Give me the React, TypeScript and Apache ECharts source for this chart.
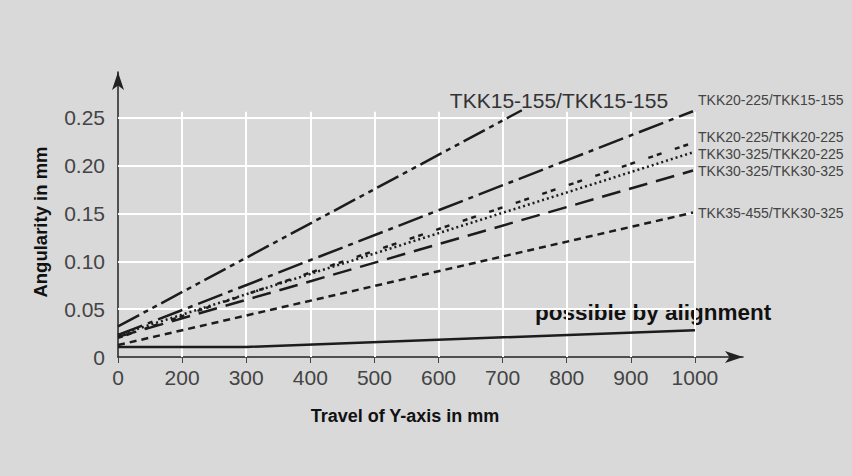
import React, { useEffect, useRef } from 'react';
import * as echarts from 'echarts';

// X axis: tick positions 0..9 carry these labels (the original chart skips "100")
const xTickLabels = ['0', '200', '300', '400', '500', '600', '700', '800', '900', '1000'];
const xTickPositions = [0, 1, 2, 3, 4, 5, 6, 7, 8, 9];
const yTickValues = [0, 0.05, 0.1, 0.15, 0.2, 0.25];

// Series: [x position in tick steps, angularity in mm]
const tkk15_155_15_155 = [[0, 0.032], [6.3, 0.258]];
const tkk20_225_15_155 = [[0, 0.023], [8.97, 0.257]];
const tkk20_225_20_225 = [[0, 0.020], [8.97, 0.224]];
const tkk30_325_20_225 = [[0, 0.023], [8.97, 0.214]];
const tkk30_325_30_325 = [[0, 0.021], [8.97, 0.195]];
const tkk35_455_30_325 = [[0, 0.0125], [8.97, 0.151]];
const alignment = [[0, 0.0105], [2, 0.0105], [9, 0.028]];

const rightLabels = [
  'TKK20-225/TKK15-155',
  'TKK20-225/TKK20-225',
  'TKK30-325/TKK20-225',
  'TKK30-325/TKK30-325',
  'TKK35-455/TKK30-325',
];

const LINE = '#1c1c1c';
const FONT = 'Liberation Sans, Arial, sans-serif';

export default function App() {
  const ref = useRef<HTMLDivElement>(null);
  useEffect(() => {
    document.body.style.margin = '0';
    const chart = echarts.init(ref.current!, null, { renderer: 'svg' });

    const gridLines: any[] = [];
    yTickValues.filter((v) => v > 0).forEach((v) => {
      gridLines.push([{ coord: [0, v] }, { coord: [9, v] }]);
    });
    xTickPositions.filter((p) => p > 0).forEach((p) => {
      gridLines.push([{ coord: [p, 0] }, { coord: [p, 0.2565] }]);
    });

    const mk = (data: number[][], type: any, name: string) => ({
      type: 'line',
      name,
      data,
      symbol: 'none',
      z: 3,
      lineStyle: { color: LINE, width: 2.5, type, cap: 'butt' },
    });

    const rightY = [100, 137, 154, 171, 212.5];

    chart.setOption({
      animation: false,
      backgroundColor: '#d9d9d9',
      grid: { left: 118, right: 109, top: 72, bottom: 119 },
      xAxis: {
        type: 'value',
        min: 0,
        max: 9.75,
        interval: 1,
        axisLine: {
          show: true,
          symbol: ['none', 'arrow'],
          symbolSize: [9, 18],
          lineStyle: { color: '#222', width: 1.5 },
        },
        axisTick: {
          show: true,
          length: 6,
          customValues: xTickPositions,
          lineStyle: { color: '#444', width: 1 },
        },
        axisLabel: {
          customValues: xTickPositions,
          margin: 10,
          color: '#444',
          fontSize: 21,
          fontFamily: FONT,
          formatter: (v: number) => {
            const i = Math.round(v);
            if (Math.abs(v - i) > 1e-6) return '';
            return xTickLabels[i] ?? '';
          },
        },
        splitLine: { show: false },
      },
      yAxis: {
        type: 'value',
        min: 0,
        max: 0.298,
        interval: 0.05,
        axisLine: {
          show: true,
          symbol: ['none', 'arrow'],
          symbolSize: [9, 18],
          lineStyle: { color: '#222', width: 1.5 },
        },
        axisTick: { show: false },
        axisLabel: {
          customValues: yTickValues,
          margin: 13,
          color: '#444',
          fontSize: 21,
          fontFamily: FONT,
          formatter: (v: number) => {
            if (v > 0.2501) return '';
            return v === 0 ? '0' : v.toFixed(2);
          },
        },
        splitLine: { show: false },
      },
      series: [
        {
          type: 'line',
          data: [[0, 0]],
          symbol: 'none',
          z: 1,
          lineStyle: { opacity: 0 },
          markLine: {
            silent: true,
            z: 1,
            symbol: 'none',
            label: { show: false },
            lineStyle: { color: '#ffffff', width: 2, type: 'solid' },
            data: gridLines,
          },
        },
        mk(tkk15_155_15_155, [24, 5, 5, 5, 5, 5], 'TKK15-155/TKK15-155'),
        mk(tkk20_225_15_155, [26, 6, 5, 6], rightLabels[0]),
        mk(tkk20_225_20_225, [5, 4, 5, 14], rightLabels[1]),
        mk(tkk30_325_20_225, [2, 3], rightLabels[2]),
        mk(tkk30_325_30_325, [19, 9], rightLabels[3]),
        mk(tkk35_455_30_325, [7, 5], rightLabels[4]),
        mk(alignment, 'solid', 'possible by alignment'),
      ],
      graphic: [
        {
          type: 'text',
          x: 559,
          y: 100,
          style: {
            text: 'TKK15-155/TKK15-155',
            fontSize: 21,
            fontFamily: FONT,
            fill: '#333',
            textAlign: 'center',
            textVerticalAlign: 'middle',
          },
        },
        ...rightLabels.map((t, i) => ({
          type: 'text',
          x: 698,
          y: rightY[i],
          style: {
            text: t,
            fontSize: 14,
            fontFamily: FONT,
            fill: '#444',
            textAlign: 'left',
            textVerticalAlign: 'middle',
          },
        })),
        {
          type: 'text',
          x: 535,
          y: 312,
          style: {
            text: 'possible by alignment',
            fontSize: 22.5,
            fontWeight: 'bold',
            fontFamily: FONT,
            fill: '#111',
            textAlign: 'left',
            textVerticalAlign: 'middle',
          },
        },
        {
          type: 'text',
          x: 405,
          y: 416,
          style: {
            text: 'Travel of Y-axis in mm',
            fontSize: 18,
            fontWeight: 'bold',
            fontFamily: FONT,
            fill: '#111',
            textAlign: 'center',
            textVerticalAlign: 'middle',
          },
        },
        {
          type: 'text',
          x: 40,
          y: 222,
          rotation: Math.PI / 2,
          style: {
            text: 'Angularity in mm',
            fontSize: 18.5,
            fontWeight: 'bold',
            fontFamily: FONT,
            fill: '#111',
            textAlign: 'center',
            textVerticalAlign: 'middle',
          },
        },
      ],
    });
    return () => chart.dispose();
  }, []);
  return <div ref={ref} style={{ width: 852, height: 476 }} />;
}
